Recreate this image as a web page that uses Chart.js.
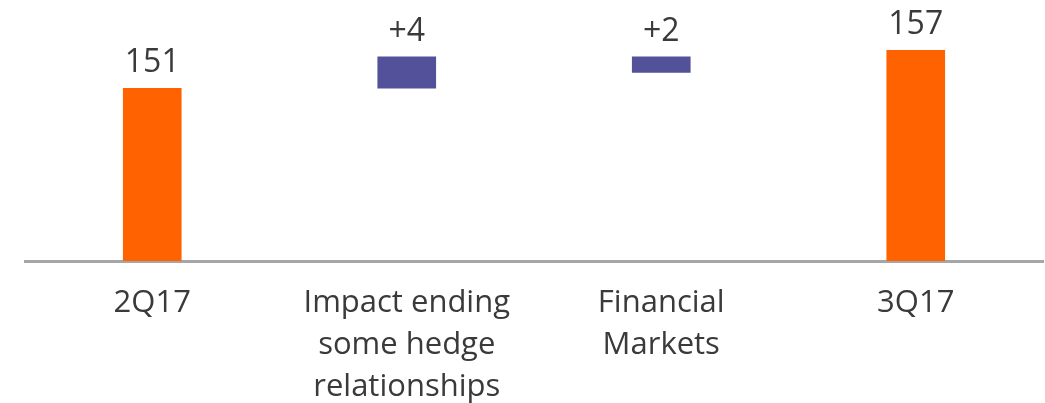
<!DOCTYPE html>
<html>
<head>
<meta charset="utf-8">
<script src="https://cdn.jsdelivr.net/npm/chart.js@4/dist/chart.umd.min.js"></script>
<style>
  html, body { margin: 0; padding: 0; background: #ffffff; }
  #wrap { width: 1045px; height: 403px; position: relative; }
</style>
</head>
<body>
<div id="wrap"><canvas id="c"></canvas></div>
<script>
// Data
const categories = [['2Q17'], ['Impact ending', 'some hedge', 'relationships'], ['Financial', 'Markets'], ['3Q17']];
const totals = [151, null, null, 157];
const changeStart = [null, 151, 153.5, null];
const changeEnd = [null, 156, 156, null];
const valueLabels = ['151', '+4', '+2', '157'];

const ORANGE = '#FF6200';
const PURPLE = '#525199';
const TEXT = '#3a3a3a';
const FONT = '"Open Sans", "Noto Sans", sans-serif';

const barData = categories.map((_, i) =>
  totals[i] !== null ? [0, totals[i]] : [changeStart[i], changeEnd[i]]
);
const barColors = categories.map((_, i) => totals[i] !== null ? ORANGE : PURPLE);

const valueLabelPlugin = {
  id: 'valueLabels',
  afterDatasetsDraw(chart) {
    const ctx = chart.ctx;
    const meta = chart.getDatasetMeta(0);
    ctx.save();
    ctx.font = '32px ' + FONT;
    ctx.fillStyle = TEXT;
    ctx.textAlign = 'center';
    ctx.textBaseline = 'alphabetic';
    meta.data.forEach((el, i) => {
      ctx.fillText(valueLabels[i], el.x, el.y - 16);
    });
    ctx.restore();
  }
};

new Chart(document.getElementById('c'), {
  type: 'bar',
  data: {
    labels: categories,
    datasets: [{
      data: barData,
      backgroundColor: barColors,
      borderWidth: 0,
      barThickness: 58
    }]
  },
  options: {
    responsive: true,
    maintainAspectRatio: false,
    animation: false,
    layout: { padding: { left: 25, right: 2, top: 0, bottom: -26 } },
    plugins: {
      legend: { display: false },
      tooltip: { enabled: false }
    },
    scales: {
      x: {
        grid: { display: false, drawTicks: false },
        border: { display: true, color: '#a6a6a6', width: 3 },
        ticks: {
          color: TEXT,
          font: { family: FONT, size: 31, lineHeight: '42px' },
          padding: 21,
          maxRotation: 0,
          autoSkip: false
        }
      },
      y: {
        display: false,
        min: 123.6,
        max: 165
      }
    }
  },
  plugins: [valueLabelPlugin]
});
</script>
</body>
</html>
